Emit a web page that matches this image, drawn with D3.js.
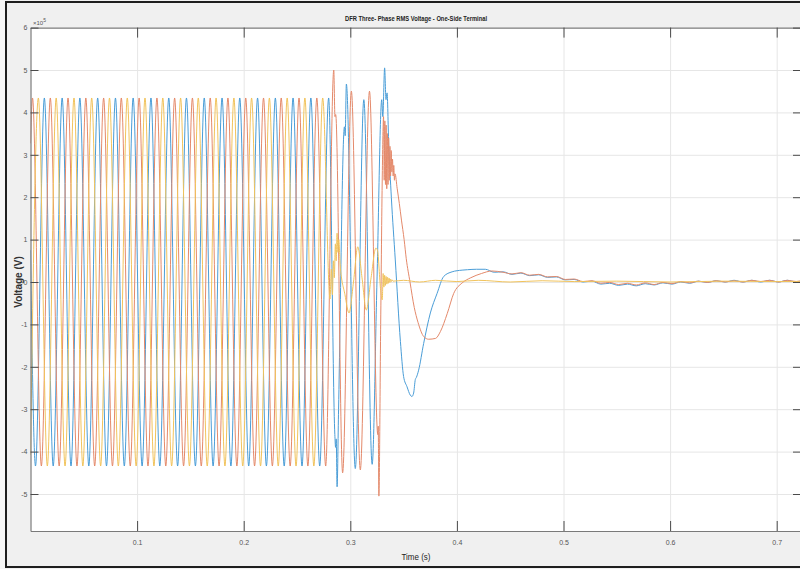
<!DOCTYPE html>
<html>
<head>
<meta charset="utf-8">
<script src="https://cdn.jsdelivr.net/npm/d3@7"></script>
<style>
  body { margin: 0; background: #f0f0f0; }
  svg { display: block; font-family: "Liberation Sans", Arial, sans-serif; }
</style>
</head>
<body>
<div id="chart"></div>
<script>
// values are in units of 1e5 V, time in seconds
// phase A (blue)
var phaseAPre = [[0,0.75],[0.0047,-4.34],[0.0130,4.34],[0.0213,-4.34],[0.0297,4.34],[0.0380,-4.34],[0.0463,4.34],[0.0547,-4.34],[0.0630,4.34],[0.0713,-4.34],[0.0797,4.34],[0.0880,-4.34],[0.0963,4.34],[0.1047,-4.34],[0.1130,4.34],[0.1213,-4.34],[0.1297,4.34],[0.1380,-4.34],[0.1463,4.34],[0.1547,-4.34],[0.1630,4.34],[0.1713,-4.34],[0.1797,4.34],[0.1880,-4.34],[0.1963,4.34],[0.2047,-4.34],[0.2130,4.34],[0.2213,-4.34],[0.2297,4.34],[0.2380,-4.34],[0.2463,4.34],[0.2547,-4.34],[0.2630,4.34],[0.2713,-4.34],[0.2797,4.34]];
var phaseAFault = [[0.2855,-3.6],[0.2862,-3.9],[0.2868,-3.7],[0.2876,-4.83],[0.2890,-3.0],[0.2945,3.66],[0.2952,3.45],[0.2963,4.67],[0.3047,-4.4],[0.3127,4.3],[0.3205,-4.3],[0.3250,0.0],[0.3295,4.3],[0.3305,3.9],[0.3322,5.05],[0.3335,4.3],[0.3345,4.46],[0.3360,3.28],[0.3385,2.0],[0.3422,0.52],[0.3470,-1.4],[0.3500,-2.23],[0.3532,-2.47],[0.3563,-2.67],[0.3578,-2.7],[0.3594,-2.62],[0.3610,-2.3],[0.3620,-2.25],[0.3641,-2.08],[0.3688,-1.45],[0.3751,-0.73],[0.3814,-0.27],[0.3876,0.13],[0.3955,0.24],[0.4049,0.28]];
var phaseATail = [[0.4100,0.29],[0.4183,0.30],[0.4267,0.30],[0.4350,0.23],[0.4433,0.24],[0.4517,0.18],[0.4600,0.21],[0.4683,0.15],[0.4767,0.17],[0.4850,0.11],[0.4933,0.12],[0.5017,0.05],[0.5100,0.06],[0.5183,0.00],[0.5267,0.02],[0.5350,-0.05],[0.5433,-0.03],[0.5517,-0.08],[0.5600,-0.05],[0.5683,-0.09],[0.5767,-0.04],[0.5850,-0.07],[0.5933,-0.02],[0.6017,-0.05],[0.6100,0.00],[0.6183,-0.03],[0.6267,0.02],[0.6350,-0.01],[0.6433,0.03],[0.6517,0.00],[0.6600,0.04],[0.6683,0.00],[0.6767,0.04],[0.6850,0.00],[0.6933,0.04],[0.7017,0.00],[0.7100,0.04],[0.7183,0.00],[0.7267,0.04],[0.7350,0.00]];

// phase B (orange)
var phaseBPre = [[0,3.27],[0.0019,4.34],[0.0102,-4.34],[0.0186,4.34],[0.0269,-4.34],[0.0352,4.34],[0.0436,-4.34],[0.0519,4.34],[0.0602,-4.34],[0.0686,4.34],[0.0769,-4.34],[0.0852,4.34],[0.0936,-4.34],[0.1019,4.34],[0.1102,-4.34],[0.1186,4.34],[0.1269,-4.34],[0.1352,4.34],[0.1436,-4.34],[0.1519,4.34],[0.1602,-4.34],[0.1686,4.34],[0.1769,-4.34],[0.1852,4.34],[0.1936,-4.34],[0.2019,4.34],[0.2102,-4.34],[0.2186,4.34],[0.2269,-4.34],[0.2352,4.34],[0.2436,-4.34],[0.2519,4.34],[0.2602,-4.34],[0.2686,4.34],[0.2769,-4.34]];
var phaseBFault = [[0.2845,5.0],[0.2856,3.9],[0.2863,3.95],[0.2928,-4.5],[0.3010,4.5],[0.3094,-4.43],[0.3180,4.5],[0.3258,-3.6],[0.3262,-3.4],[0.3268,-5.05],[0.3285,-1.0],[0.3300,2.5],[0.3312,3.9],[0.3318,2.4],[0.3324,3.8],[0.3330,2.3],[0.3336,3.7],[0.3342,2.2],[0.3348,3.5],[0.3354,2.3],[0.3360,3.4],[0.3366,2.4],[0.3372,3.2],[0.3378,2.5],[0.3384,3.1],[0.3390,2.6],[0.3396,2.9],[0.3402,2.5],[0.3408,2.75],[0.3414,2.4],[0.3420,2.55],[0.3440,2.2],[0.3460,1.85],[0.3480,1.46],[0.3505,1.0],[0.3525,0.55],[0.3560,0.0],[0.3600,-0.6],[0.3635,-0.95],[0.3690,-1.29],[0.3735,-1.35],[0.3800,-1.33],[0.3845,-1.17],[0.3910,-0.74],[0.3970,-0.27],[0.4050,-0.02],[0.4130,0.10],[0.4230,0.20],[0.4330,0.26]];
var phaseBTail = [[0.4433,0.23],[0.4517,0.19],[0.4600,0.22],[0.4683,0.16],[0.4767,0.18],[0.4850,0.12],[0.4933,0.13],[0.5017,0.06],[0.5100,0.07],[0.5183,0.01],[0.5267,0.03],[0.5350,-0.03],[0.5433,-0.01],[0.5517,-0.06],[0.5600,-0.03],[0.5683,-0.07],[0.5767,-0.02],[0.5850,-0.06],[0.5933,-0.01],[0.6017,-0.04],[0.6100,0.01],[0.6183,-0.02],[0.6267,0.02],[0.6350,-0.01],[0.6433,0.03],[0.6517,0.00],[0.6600,0.03],[0.6683,0.00],[0.6767,0.04],[0.6850,0.01],[0.6933,0.04],[0.7017,0.00],[0.7100,0.04],[0.7183,0.01],[0.7267,0.04],[0.7350,0.01]];

// phase C (yellow)
var phaseCPre = [[0,-4.08],[0.0074,4.34],[0.0158,-4.34],[0.0241,4.34],[0.0324,-4.34],[0.0408,4.34],[0.0491,-4.34],[0.0574,4.34],[0.0658,-4.34],[0.0741,4.34],[0.0824,-4.34],[0.0908,4.34],[0.0991,-4.34],[0.1074,4.34],[0.1158,-4.34],[0.1241,4.34],[0.1324,-4.34],[0.1408,4.34],[0.1491,-4.34],[0.1574,4.34],[0.1658,-4.34],[0.1741,4.34],[0.1824,-4.34],[0.1908,4.34],[0.1991,-4.34],[0.2074,4.34],[0.2158,-4.34],[0.2241,4.34],[0.2324,-4.34],[0.2408,4.34],[0.2491,-4.34],[0.2574,4.34],[0.2658,-4.34],[0.2741,4.34]];
var phaseCFault = [[0.2810,-0.4],[0.2822,0.3],[0.2832,-0.3],[0.2842,0.5],[0.2850,0.1],[0.2860,0.9],[0.2868,0.5],[0.2876,1.15],[0.2884,0.7],[0.2892,1.0],[0.2905,0.4],[0.2950,-0.3],[0.2988,-0.73],[0.3030,0.0],[0.3070,0.83],[0.3110,0.1],[0.3150,-0.66],[0.3195,0.1],[0.3240,0.8],[0.3255,0.75],[0.3285,-0.2],[0.3300,-0.42],[0.3308,0.2],[0.3315,-0.12],[0.3322,0.16],[0.3329,-0.08],[0.3336,0.13],[0.3343,-0.05],[0.3350,0.11],[0.3357,-0.03],[0.3364,0.09],[0.3371,-0.01],[0.3378,0.07],[0.3385,0.01],[0.3392,0.05],[0.3400,0.02]];
var phaseCTail = [[0.3500,0.04],[0.3650,0.0],[0.3800,0.04],[0.4000,0.01],[0.4200,0.04],[0.4500,0.0],[0.4800,0.03],[0.5100,0.01],[0.5500,0.02],[0.6000,0.0],[0.6500,0.02],[0.7000,0.01],[0.7350,0.02]];

var xTicks = [0.1, 0.2, 0.3, 0.4, 0.5, 0.6, 0.7];
var yTicks = [-5, -4, -3, -2, -1, 0, 1, 2, 3, 4, 5, 6];

var series = [
  { name: "A", color: "#4a9dd7", points: phaseAPre.concat(phaseAFault, phaseATail) },
  { name: "B", color: "#e4896a", points: phaseBPre.concat(phaseBFault, phaseBTail) },
  { name: "C", color: "#f1c35c", points: phaseCPre.concat(phaseCFault, phaseCTail) }
];

var svgWidth = 800;
var svgHeight = 569;
// plot box (right edge is just off the picture)
var boxLeft = 30.5, boxRight = 801, boxTop = 27.6, boxBottom = 531;

var svg = d3.select("#chart")
  .append("svg")
  .attr("width", svgWidth)
  .attr("height", svgHeight);

// figure background and frame
svg.append("rect").attr("width", svgWidth).attr("height", svgHeight).attr("fill", "#f0f0f0");
svg.append("rect").attr("width", 5).attr("height", svgHeight).attr("fill", "#f6f6f6");
svg.append("rect")
  .attr("x", 6).attr("y", 2).attr("width", 810).attr("height", 565)
  .attr("fill", "none").attr("stroke", "#1e1e1e").attr("stroke-width", 2);

var xScale = d3.scaleLinear().domain([0, (boxRight - boxLeft) / 1066]).range([boxLeft, boxRight]);
var yScale = d3.scaleLinear().domain([-(boxBottom - 282) / 42.4, 6]).range([boxBottom, boxTop]);

svg.append("rect")
  .attr("x", boxLeft).attr("y", boxTop)
  .attr("width", boxRight - boxLeft).attr("height", boxBottom - boxTop)
  .attr("fill", "#ffffff");

// grid
svg.append("g")
  .attr("transform", "translate(0," + boxBottom + ")")
  .call(d3.axisBottom(xScale).tickValues(xTicks).tickSize(-(boxBottom - boxTop)).tickFormat(""))
  .call(function(g) { g.select(".domain").remove(); })
  .selectAll("line").attr("stroke", "#e6e6e6");

svg.append("g")
  .attr("transform", "translate(" + boxLeft + ",0)")
  .call(d3.axisLeft(yScale).tickValues(yTicks.slice(0, -1)).tickSize(-(boxRight - boxLeft)).tickFormat(""))
  .call(function(g) { g.select(".domain").remove(); })
  .selectAll("line").attr("stroke", "#e6e6e6");

// waveforms
svg.append("clipPath").attr("id", "plotClip")
  .append("rect").attr("x", boxLeft).attr("y", boxTop).attr("width", boxRight - boxLeft).attr("height", boxBottom - boxTop);

var line = d3.line()
  .x(function(d) { return xScale(d[0]); })
  .y(function(d) { return yScale(d[1]); })
  .curve(d3.curveMonotoneX);

svg.append("g")
  .attr("clip-path", "url(#plotClip)")
  .selectAll("path")
  .data(series)
  .enter()
  .append("path")
  .attr("d", function(d) { return line(d.points); })
  .attr("fill", "none")
  .attr("stroke", function(d) { return d.color; })
  .attr("stroke-width", 1);

// axes (MATLAB box with inward ticks)
function styleAxis(g) {
  g.select(".domain").attr("stroke", "#7a7a7a").attr("stroke-width", 1.2);
  g.selectAll(".tick line").attr("stroke", "#4a4a4a");
  g.selectAll(".tick text").attr("fill", "#555").style("font-size", "7px");
}

svg.append("g")
  .attr("transform", "translate(0," + boxBottom + ")")
  .call(d3.axisBottom(xScale).tickValues(xTicks).tickSize(-10).tickSizeOuter(0).tickPadding(9).tickFormat(d3.format(".1f")))
  .call(styleAxis);

svg.append("g")
  .attr("transform", "translate(0," + boxTop + ")")
  .call(d3.axisTop(xScale).tickValues(xTicks).tickSize(-10).tickSizeOuter(0).tickFormat(""))
  .call(styleAxis);

svg.append("g")
  .attr("transform", "translate(" + boxLeft + ",0)")
  .call(d3.axisLeft(yScale).tickValues(yTicks).tickSize(-8).tickSizeOuter(0).tickPadding(3).tickFormat(d3.format("d")))
  .call(styleAxis)
  .call(function(g) { g.selectAll(".tick text").text(function(d) { return d < 0 ? "-" + Math.abs(d) : d; }); });

svg.append("g")
  .attr("transform", "translate(" + boxRight + ",0)")
  .call(d3.axisRight(yScale).tickValues(yTicks).tickSize(-8).tickSizeOuter(0).tickFormat(""))
  .call(styleAxis);

// exponent
var expo = svg.append("text")
  .attr("x", 33).attr("y", 25)
  .attr("fill", "#555")
  .style("font-size", "6px");
expo.append("tspan").text("\u00d710");
expo.append("tspan").attr("dy", -3).style("font-size", "5px").text("5");

// title
svg.append("text")
  .attr("x", 416).attr("y", 21)
  .attr("text-anchor", "middle")
  .attr("fill", "#222")
  .style("font-size", "7.5px")
  .style("font-weight", "bold")
  .attr("textLength", 142)
  .attr("lengthAdjust", "spacingAndGlyphs")
  .text("DFR Three- Phase RMS Voltage - One-Side Terminal");

// axis labels
svg.append("text")
  .attr("transform", "translate(22," + 282 + ") rotate(-90)")
  .attr("text-anchor", "middle")
  .attr("fill", "#333")
  .style("font-size", "10px")
  .style("font-weight", "bold")
  .text("Voltage (V)");

svg.append("text")
  .attr("x", 416).attr("y", 560)
  .attr("text-anchor", "middle")
  .attr("fill", "#222")
  .style("font-size", "9px")
  .attr("textLength", 29)
  .attr("lengthAdjust", "spacingAndGlyphs")
  .text("Time (s)");
</script>
</body>
</html>
